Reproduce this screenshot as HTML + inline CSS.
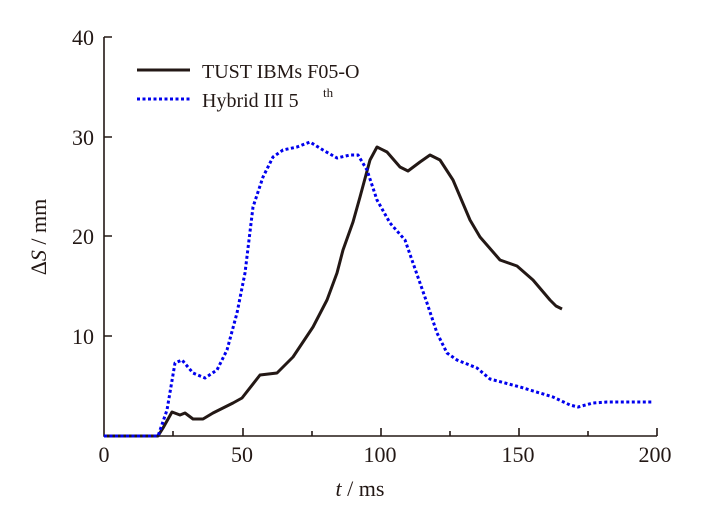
<!DOCTYPE html>
<html><head><style>body{margin:0;background:#fff}svg{display:block}text{font-family:"Liberation Serif",serif;fill:#231815}</style></head><body>
<svg width="715" height="510" viewBox="0 0 715 510" xmlns="http://www.w3.org/2000/svg">
<g stroke="#231815" stroke-width="1.6" fill="none">
<path d="M104,37V436H657"/>
<path d="M104,37h8M104,137h8M104,236h8M104,336h8"/>
<path d="M173,436v-5M243,436v-8M312,436v-5M381,436v-8M450,436v-5M519,436v-8M588,436v-5M657,436v-8"/>
</g>
<g font-size="22" text-anchor="end">
<text x="94" y="45">40</text><text x="94" y="145">30</text><text x="94" y="244">20</text><text x="94" y="344">10</text>
</g>
<g font-size="22" text-anchor="middle">
<text x="104" y="462">0</text><text x="242" y="462">50</text><text x="380" y="462">100</text><text x="518" y="462">150</text><text x="655" y="462">200</text>
<text x="360" y="496"><tspan font-style="italic">t</tspan> / ms</text>
</g>
<text font-size="22" text-anchor="middle" transform="translate(46,237) rotate(-90)">Δ<tspan font-style="italic">S</tspan> / mm</text>
<path d="M137,70H190" stroke="#231815" stroke-width="3"/>
<text x="202" y="78" font-size="20">TUST IBMs F05-O</text>
<path d="M137,99H190" stroke="#0000ee" stroke-width="3" stroke-dasharray="3,2.5"/>
<text x="202" y="107" font-size="20">Hybrid III 5</text>
<text x="323" y="97" font-size="13">th</text>
<polyline fill="none" stroke="#231815" stroke-width="3" stroke-linejoin="round" points="104,436 158,436 163,428 172,412 180,415 185,413 193,419 203,419 213,413 233,403 242,398 260,375 277,373 293,357 313,327 327,300 337,273 343,250 353,222 360,197 370,160 377,147 387,152 400,167 408,171 420,162 430,155 440,160 453,180 470,220 480,237 500,260 517,266 533,280 550,300 556,306 562,309"/>
<polyline fill="none" stroke="#0000ee" stroke-width="3" stroke-dasharray="3,2.5" stroke-linejoin="round" points="104,436 158,436 167,410 175,363 182,360 193,373 205,378 217,370 227,350 237,313 245,273 253,207 263,177 273,157 283,150 297,147 310,142 323,150 337,158 350,155 358,155 367,170 377,200 390,223 405,240 413,263 427,303 437,333 447,353 457,360 477,368 490,379 520,387 553,397 570,405 578,407 593,403 607,402 652,402"/>
</svg>
</body></html>
